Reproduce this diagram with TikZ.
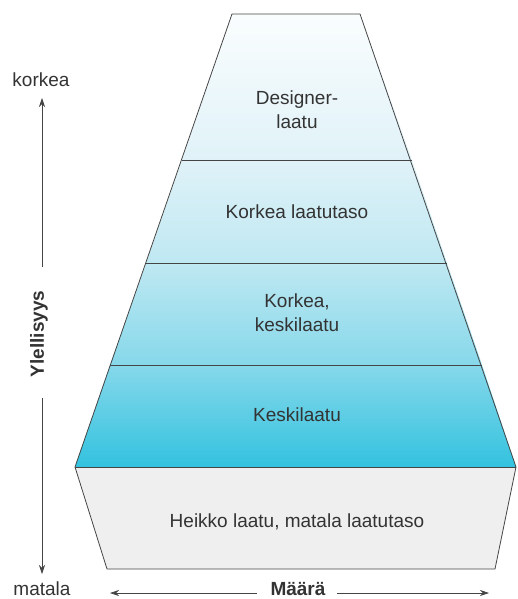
\documentclass[tikz,border=0pt]{standalone}
\usepackage{fontspec}
\setmainfont{Liberation Sans}
\usetikzlibrary{arrows.meta}
\definecolor{txt}{HTML}{333333}
\definecolor{edge}{HTML}{454545}
\definecolor{cA}{HTML}{FAFDFE}
\definecolor{cB}{HTML}{E0F2F8}
\definecolor{cC}{HTML}{BFE8F2}
\definecolor{cD}{HTML}{86D8EA}
\definecolor{cE}{HTML}{33C2DF}
\definecolor{greybox}{HTML}{EFEFEF}
\tikzset{
  lbl/.style={text=txt, font=\fontsize{19}{24}\selectfont, align=center, inner sep=0pt},
  axislbl/.style={text=txt, font=\fontsize{19}{24}\selectfont, inner sep=0pt},
  axisbold/.style={text=txt, font=\fontsize{19}{24}\selectfont\bfseries, inner sep=0pt},
  band/.style={draw=edge, line width=0.8pt, line join=round},
  arr/.style={draw=edge, line width=0.7pt, -{Stealth[length=9pt,width=6pt]}}
}
\begin{document}
\begin{tikzpicture}[x=1pt,y=-1pt]
\useasboundingbox (0,0) rectangle (517,599);
% corner points of bands
\coordinate (t1) at (232,14);  \coordinate (t2) at (360,14);
\coordinate (a1) at (182,160); \coordinate (a2) at (412,160);
\coordinate (b1) at (146,263); \coordinate (b2) at (447,263);
\coordinate (c1) at (110,365); \coordinate (c2) at (482,365);
\coordinate (d1) at (75,467);  \coordinate (d2) at (516,467);
\coordinate (e1) at (107,569); \coordinate (e2) at (495,569);
% shaded bands
\shade[top color=cA, bottom color=cB] (t1) -- (t2) -- (a2) -- (a1) -- cycle;
\shade[top color=cB, bottom color=cC] (a1) -- (a2) -- (b2) -- (b1) -- cycle;
\shade[top color=cC, bottom color=cD] (b1) -- (b2) -- (c2) -- (c1) -- cycle;
\shade[top color=cD, bottom color=cE] (c1) -- (c2) -- (d2) -- (d1) -- cycle;
\fill[greybox] (d1) -- (d2) -- (e2) -- (e1) -- cycle;
% outlines
\draw[band] (t1) -- (t2) -- (d2) -- (e2) -- (e1) -- (d1) -- cycle;
\draw[band] (a1) -- (a2);
\draw[band] (b1) -- (b2);
\draw[band] (c1) -- (c2);
\draw[band] (d1) -- (d2);
% labels
\node[lbl] (designer) at (297,110) {Designer-\\laatu};
\node[lbl] (korkeataso) at (297,212) {Korkea laatutaso};
\node[lbl] (keskikorkea) at (297,313) {Korkea,\\keskilaatu};
\node[lbl] (keski) at (297,415) {Keskilaatu};
\node[lbl] (heikko) at (297,522) {Heikko laatu, matala laatutaso};
% axes
\node[axislbl] (korkea) at (41,80) {korkea};
\node[axislbl] (matala) at (42,589) {matala};
\node[axisbold, rotate=90] (ylel) at (39,334) {Ylellisyys};
\node[axisbold] (maara) at (298,589) {Määrä};
\coordinate (vtop) at (42,98);
\coordinate (vup) at (42,267);
\coordinate (vdn) at (42,398);
\coordinate (vbot) at (42,574);
\coordinate (hl) at (110,593);
\coordinate (hls) at (257,593);
\coordinate (hrs) at (337,593);
\coordinate (hr) at (489,593);
\draw[arr] (vup) -- (vtop);
\draw[arr] (vdn) -- (vbot);
\draw[arr] (hls) -- (hl);
\draw[arr] (hrs) -- (hr);
\end{tikzpicture}
\end{document}
